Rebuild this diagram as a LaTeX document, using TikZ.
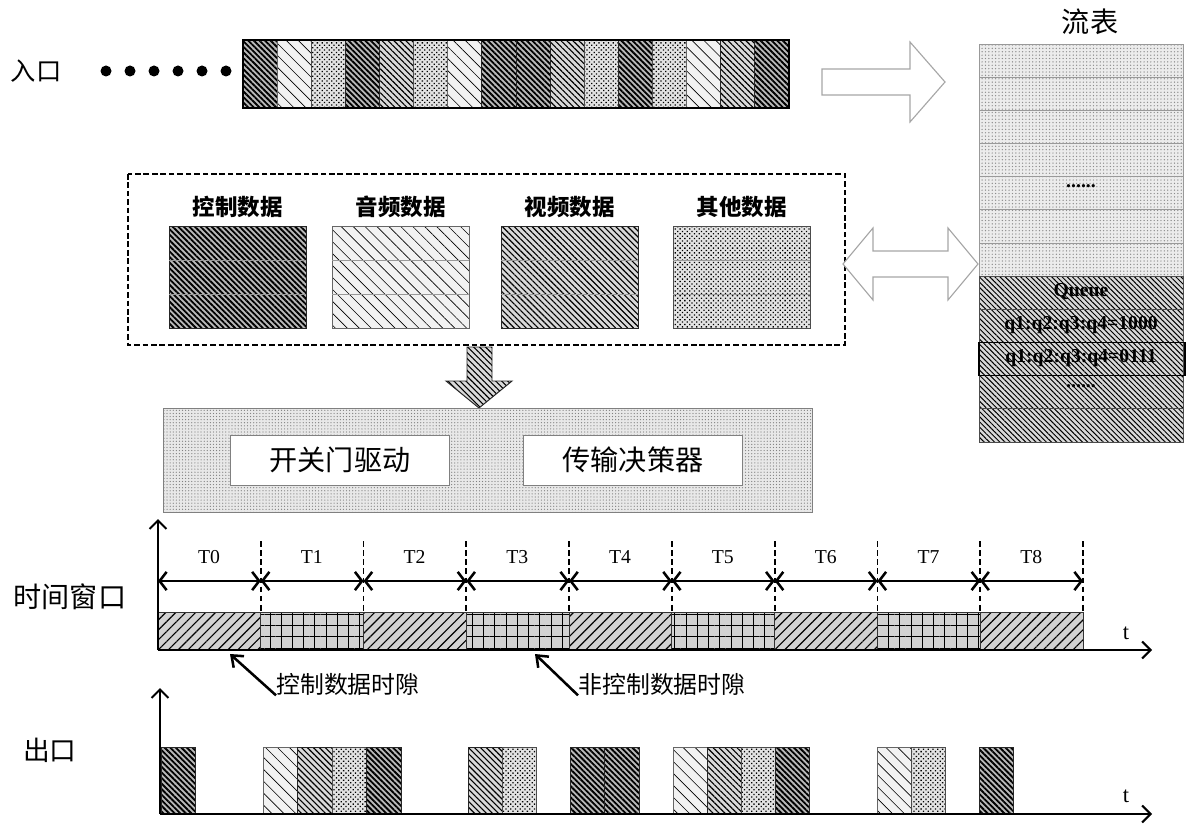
\documentclass[tikz,border=0pt]{standalone}
\usepackage{fontspec}
\setmainfont{Liberation Serif}
\newfontfamily\cjk{Noto Sans CJK SC}
\usetikzlibrary{patterns,patterns.meta,arrows.meta,positioning}

\newcommand{\fsz}[1]{\fontsize{#1}{#1}\selectfont}

\begin{document}
\begin{tikzpicture}[x=0.025cm, y=-0.025cm, every node/.style={inner sep=1pt},
	ctl/.style={draw=black!85, line width=0.7pt, preaction={fill=gray!55}, pattern={Lines[angle=-45,distance=2.8pt,line width=1.3pt]}},
	aud/.style={draw=black!60, line width=0.7pt, preaction={fill=gray!10}, pattern={Lines[angle=-45,distance=6pt,line width=0.45pt]}},
	vid/.style={draw=black!85, line width=0.7pt, preaction={fill=gray!30}, pattern={Lines[angle=-45,distance=3pt,line width=0.8pt]}},
	oth/.style={draw=black!70, line width=0.7pt, preaction={fill=gray!22}, pattern={Dots[angle=45,distance=2.4pt,radius=0.65pt]}},
	ftdot/.style={draw=gray!80, line width=0.7pt, preaction={fill=gray!15}, pattern={Dots[distance=2.4pt,radius=0.5pt]}, pattern color=gray!90},
	fthatch/.style={draw=black!70, line width=0.7pt, preaction={fill=gray!30}, pattern={Lines[angle=-45,distance=2.6pt,line width=0.7pt]}},
	graybox/.style={draw=gray, line width=0.7pt, preaction={fill=gray!18}, pattern={Dots[distance=2.2pt,radius=0.45pt]}, pattern color=gray},
	inbox/.style={draw=gray, fill=white, line width=0.7pt, minimum width=5.45cm, minimum height=1.25cm, font=\cjk\fsz{20}},
	cslot/.style={draw=black!80, line width=0.6pt, preaction={fill=gray!35}, pattern={Lines[angle=45,distance=5pt,line width=0.8pt]}},
	nslot/.style={draw=black!80, line width=0.6pt, preaction={fill=gray!35}, pattern={Hatch[distance=8pt,line width=0.7pt]}},
	blockarrow/.style={draw=gray!70, fill=white, line width=0.8pt},
	catlab/.style={font=\cjk\bfseries\fsz{16}},
	tlab/.style={font=\fsz{14}},
	qlab/.style={font=\bfseries\fsz{14}},
	seg/.style={line width=1.8pt, {Straight Barb[length=5pt,width=13pt]}-{Straight Barb[length=5pt,width=13pt]}},
	axis/.style={line width=1.4pt, -{Straight Barb[length=6pt,width=12pt]}},
	note/.style={line width=1.8pt, -{Straight Barb[length=7pt,width=11pt]}}]

	\useasboundingbox (0,0) rectangle (1186,828);

	% entrance
	\node[font=\cjk\fsz{18}] (in) at (36,71) {入口};
	\foreach \k in {0,...,5}
		\fill (106+24*\k,71) circle (5.5);
	\foreach \t [count=\k from 0] in {ctl,aud,oth,ctl,vid,oth,aud,ctl,ctl,vid,oth,ctl,oth,aud,vid,ctl}
		\path[\t] (243+34.125*\k,40) rectangle ++(34.125,68);
	\draw[line width=1.4pt] (243,40) rectangle (789,108);

	\draw[blockarrow] (822,69) -- (910,69) -- (910,42) -- (945,82) -- (910,122) -- (910,95) -- (822,95) -- cycle;

	% flow table
	\node[font=\cjk\fsz{20}] (flow) at (1090,22) {流表};
	\foreach \k in {0,...,6}
		\path[ftdot] (979,44+33.17*\k) rectangle ++(204,33.17);
	\foreach \k in {7,...,11}
		\path[fthatch] (979,44+33.17*\k) rectangle ++(204,33.17);
	\draw[line width=0.8pt] (979,342.5) rectangle (1185,375.7);
	\node[qlab] (fdots1) at (1081,186) {......};
	\node[qlab] (queue) at (1081,292) {Queue};
	\node[qlab] (q1000) at (1081,325) {q1:q2:q3:q4=1000};
	\node[qlab] (q0111) at (1081,358) {q1:q2:q3:q4=0111};
	\node[qlab] (fdots2) at (1081,386) {......};

	% data classes
	\draw[line width=1.3pt, dash pattern=on 4pt off 2pt] (128,174) rectangle (845,345);
	\foreach \t/\x/\txt in {ctl/169/控制数据, aud/332/音频数据, vid/501/视频数据, oth/673/其他数据} {
		\path[\t] (\x,226) rectangle ++(137,102);
		\draw[gray!80, line width=0.7pt] (\x,260) -- ++(137,0) (\x,294) -- ++(137,0);
		\node[catlab] (cat-\t) at (\x+68.5,207) {\txt};
	}

	\draw[blockarrow] (843,264) -- (873,228) -- (873,251) -- (948,251) -- (948,228) -- (978,264)
		-- (948,300) -- (948,277) -- (873,277) -- (873,300) -- cycle;
	\path[vid] (467,347) -- (492,347) -- (492,381) -- (512,381) -- (479,408) -- (446,381) -- (467,381) -- cycle;

	% control unit
	\path[graybox] (163,408) rectangle (812,512);
	\node[inbox] (gate) at (340,460) {开关门驱动};
	\node[inbox] (decide) at (633,460) {传输决策器};

	% time window
	\node[font=\cjk\fsz{20}] (tw) at (70,597) {时间窗口};
	\foreach \i in {0,2,4,6,8}
		\path[cslot] (158+102.78*\i,612) rectangle ++(102.78,38);
	\foreach \i in {1,3,5,7}
		\path[nslot] (158+102.78*\i,612) rectangle ++(102.78,38);
	\foreach \i in {1,...,9}
		\draw[line width=1.3pt, dash pattern=on 4pt off 2.5pt] (158+102.78*\i,541) -- (158+102.78*\i,612);
	\foreach \i in {0,...,8} {
		\draw[seg] (158+102.78*\i,581) -- ++(102.78,0);
		\node[tlab] (T\i) at (209+102.78*\i,557) {T\i};
	}
	\coordinate (o1) at (158,650);
	\draw[axis] (o1) -- (158,519);
	\draw[axis] (o1) -- (1152,650);
	\node[font=\fsz{16}] (t1) at (1126,633) {t};

	\node[font=\cjk\fsz{17}, anchor=west, inner sep=0pt] (clab) at (276,684) {控制数据时隙};
	\node[font=\cjk\fsz{17}, anchor=west, inner sep=0pt] (nlab) at (578,684) {非控制数据时隙};
	\coordinate (cpt) at (230,654);
	\coordinate (npt) at (535,654);
	\draw[note] (clab.south west) -- (cpt);
	\draw[note] (nlab.south west) -- (npt);

	% exit
	\node[font=\cjk\fsz{19}] (out) at (50,750) {出口};
	\foreach \t/\x in {ctl/161, aud/263, vid/297.5, oth/332, ctl/366.5, vid/468, oth/502, ctl/570, ctl/604.5, aud/673, vid/707, oth/741, ctl/775, aud/877, oth/911, ctl/979}
		\path[\t] (\x,747) rectangle ++(34.5,67);
	\coordinate (o2) at (160,814);
	\draw[axis] (o2) -- (160,688);
	\draw[axis] (o2) -- (1152,814);
	\node[font=\fsz{16}] (t2) at (1126,796) {t};

\end{tikzpicture}
\end{document}
